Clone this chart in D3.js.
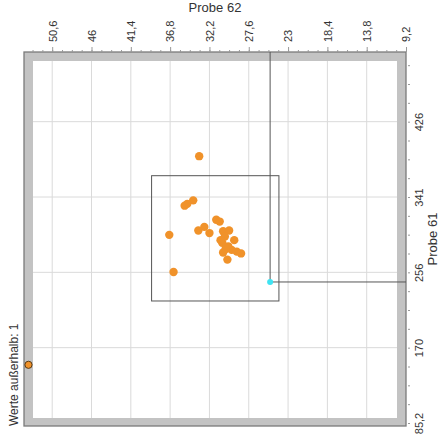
<!DOCTYPE html>
<html>
<head>
<meta charset="utf-8">
<script src="https://cdn.jsdelivr.net/npm/d3@7/dist/d3.min.js"></script>
<style>
  body { margin: 0; background: #fff; }
  text { font-family: "Liberation Sans", Arial, sans-serif; fill: #333; }
</style>
</head>
<body>
<div id="chart"></div>
<script>
// Probe 62 (x, reversed) / Probe 61 (y)
var probe62 = [33.4, 34.1, 34.8, 35.1, 31.4, 31.0, 32.8, 33.5, 32.2, 36.9, 30.6, 29.9,
               30.4, 29.3, 30.7, 30.0, 30.6, 29.6, 29.0, 28.5, 30.1, 36.4, 30.3, 30.9];
var probe61 = [387, 337, 333, 331, 315, 313, 307, 303, 300, 298, 302, 303,
               296, 292, 289, 285, 278, 281, 279, 277, 270, 256, 282, 292];

// values outside the plot range
var outside62 = [58];
var outside61 = [151];

// crosshair point and box limits
var cross62 = 25.1, cross61 = 244.7;
var box62 = [38.97, 24.07];
var box61 = [223.2, 364.9];

var ticks62 = [50.6, 46, 41.4, 36.8, 32.2, 27.6, 23, 18.4, 13.8, 9.2];
var ticks61 = [85.2, 170.4, 255.6, 340.8, 426];

var W = 441, H = 446;
var frame = {left: 24, top: 52, right: 406, bottom: 426, band: 9};

var svg = d3.select("#chart").append("svg")
  .attr("width", W)
  .attr("height", H);

var x = d3.scaleLinear().domain([53.9, 9.2]).range([frame.left, frame.right]);
var y = d3.scaleLinear().domain([85.2, 504.8]).range([423, frame.top]);

var fmt = d3.formatLocale({decimal: ",", thousands: ".", grouping: [3], currency: ["", "€"]}).format(".3~r");

//grey frame band + white plot area
svg.append("rect")
  .attr("x", frame.left).attr("y", frame.top)
  .attr("width", frame.right - frame.left).attr("height", frame.bottom - frame.top)
  .attr("fill", "#c3c3c3")
  .attr("stroke", "#7a7a7a")
  .attr("stroke-width", 1.3);

var inner = {
  left: frame.left + frame.band, top: frame.top + frame.band,
  right: frame.right - frame.band, bottom: frame.bottom - 8
};

svg.append("rect")
  .attr("x", inner.left).attr("y", inner.top)
  .attr("width", inner.right - inner.left).attr("height", inner.bottom - inner.top)
  .attr("fill", "#fff");

svg.append("clipPath").attr("id", "clipInner")
  .append("rect")
  .attr("x", inner.left).attr("y", inner.top)
  .attr("width", inner.right - inner.left).attr("height", inner.bottom - inner.top);

var grid = svg.append("g").attr("clip-path", "url(#clipInner)");

grid.selectAll("line.gx")
  .data(ticks62)
  .enter()
  .append("line")
  .attr("class", "gx")
  .attr("x1", function(d) { return x(d); })
  .attr("x2", function(d) { return x(d); })
  .attr("y1", inner.top).attr("y2", inner.bottom)
  .attr("stroke", "#dadada");

grid.selectAll("line.gy")
  .data(ticks61)
  .enter()
  .append("line")
  .attr("class", "gy")
  .attr("y1", function(d) { return y(d); })
  .attr("y2", function(d) { return y(d); })
  .attr("x1", inner.left).attr("x2", inner.right)
  .attr("stroke", "#dadada");

//top axis
var minor62 = d3.range(0, 40).map(function(i) { return 9.2 + i * 1.15; })
  .filter(function(v) { return v < 53.9; });
var minor61 = d3.range(0, 21).map(function(i) { return 85.2 + i * 21.3; })
  .filter(function(v) { return v < 504.8; });

var topMinor = svg.append("g")
  .attr("transform", "translate(0," + frame.top + ")")
  .call(d3.axisTop(x).tickValues(minor62).tickSize(2).tickFormat(""));
topMinor.select(".domain").remove();
topMinor.selectAll("line").attr("stroke", "#999");

var topAxis = svg.append("g")
  .attr("transform", "translate(0," + frame.top + ")")
  .call(d3.axisTop(x).tickValues(ticks62).tickSize(5).tickFormat(fmt));
topAxis.select(".domain").remove();
topAxis.selectAll("line").attr("stroke", "#999");
topAxis.selectAll("text")
  .attr("transform", "rotate(-90)")
  .attr("x", 10)
  .attr("y", 0)
  .attr("dy", "0.35em")
  .style("text-anchor", "start")
  .style("font-size", "11px")
  .style("font-family", "'Liberation Sans', Arial, sans-serif")
  .attr("fill", "#333");

//right axis
var rightMinor = svg.append("g")
  .attr("transform", "translate(" + frame.right + ",0)")
  .call(d3.axisRight(y).tickValues(minor61).tickSize(3).tickFormat(""));
rightMinor.select(".domain").remove();
rightMinor.selectAll("line").attr("stroke", "#999").attr("x1", 2).attr("x2", 4);

var rightAxis = svg.append("g")
  .attr("transform", "translate(" + frame.right + ",0)")
  .call(d3.axisRight(y).tickValues(ticks61).tickSize(0).tickFormat(fmt));
rightAxis.select(".domain").remove();
rightAxis.selectAll("text")
  .attr("transform", "rotate(-90)")
  .attr("x", 0)
  .attr("y", 13)
  .attr("dy", "0.35em")
  .style("text-anchor", "middle")
  .style("font-size", "11px")
  .style("font-family", "'Liberation Sans', Arial, sans-serif")
  .attr("fill", "#333");

//titles
svg.append("text")
  .attr("x", (frame.left + frame.right) / 2)
  .attr("y", 12)
  .style("text-anchor", "middle")
  .style("font-size", "13px")
  .text("Probe 62");

svg.append("text")
  .attr("transform", "translate(437," + ((frame.top + frame.bottom) / 2) + ") rotate(-90)")
  .style("text-anchor", "middle")
  .style("font-size", "13px")
  .text("Probe 61");

svg.append("text")
  .attr("transform", "translate(18," + frame.bottom + ") rotate(-90)")
  .style("text-anchor", "start")
  .style("font-size", "12px")
  .text("Werte außerhalb: " + outside62.length);

//box
svg.append("rect")
  .attr("x", x(box62[0]))
  .attr("y", y(box61[1]))
  .attr("width", x(box62[1]) - x(box62[0]))
  .attr("height", y(box61[0]) - y(box61[1]))
  .attr("fill", "none")
  .attr("stroke", "#555")
  .attr("stroke-width", 1);

//crosshair
svg.append("line")
  .attr("x1", x(cross62)).attr("x2", x(cross62))
  .attr("y1", frame.top).attr("y2", y(cross61))
  .attr("stroke", "#555");
svg.append("line")
  .attr("x1", x(cross62)).attr("x2", frame.right)
  .attr("y1", y(cross61)).attr("y2", y(cross61))
  .attr("stroke", "#555");

//points
svg.selectAll("circle.pt")
  .data(probe62)
  .enter()
  .append("circle")
  .attr("class", "pt")
  .attr("cx", function(d) { return x(d); })
  .attr("cy", function(d, i) { return y(probe61[i]); })
  .attr("r", 4.2)
  .attr("fill", "#f0922a");

svg.selectAll("circle.out")
  .data(outside62)
  .enter()
  .append("circle")
  .attr("class", "out")
  .attr("cx", function(d) { return Math.max(x(d), frame.left + 4.5); })
  .attr("cy", function(d, i) { return y(outside61[i]); })
  .attr("r", 3.6)
  .attr("fill", "#f0922a")
  .attr("stroke", "#5a3a12")
  .attr("stroke-width", 1);

svg.append("circle")
  .attr("cx", x(cross62))
  .attr("cy", y(cross61))
  .attr("r", 3)
  .attr("fill", "#3fe3f2");
</script>
</body>
</html>
